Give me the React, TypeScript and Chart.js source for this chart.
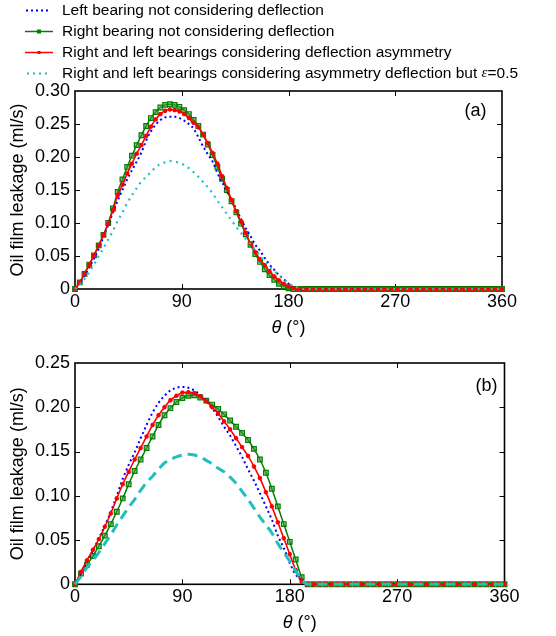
import React, { useEffect, useRef } from "react";
import { Chart, registerables } from "chart.js";

Chart.register(...registerables);

const FONT = "'Liberation Sans', Arial, Helvetica, sans-serif";

// Shaft angle spacing of the samples, degrees
const STEP_A = 4;
const STEP_B = 5;

// Panel (a): oil film leakage (ml/s), one value per STEP_A degrees, 0..360
const leftA = [
  0, 0.010, 0.020, 0.033, 0.046, 0.061, 0.079, 0.097, 0.116, 0.134,
  0.150, 0.166, 0.180, 0.193, 0.207, 0.225, 0.239, 0.249, 0.256, 0.260,
  0.261, 0.261, 0.259, 0.255, 0.250, 0.243, 0.230, 0.216, 0.204, 0.193,
  0.176, 0.162, 0.148, 0.135, 0.121, 0.106, 0.092, 0.080, 0.067, 0.058,
  0.047, 0.037, 0.029, 0.021, 0.015, 0.008, 0.003, 0, 0, 0,
  0, 0, 0, 0, 0, 0, 0, 0, 0, 0,
  0, 0, 0, 0, 0, 0, 0, 0, 0, 0,
  0, 0, 0, 0, 0, 0, 0, 0, 0, 0,
  0, 0, 0, 0, 0, 0, 0, 0, 0, 0,
  0,
];
const rightA = [
  0, 0.010, 0.023, 0.037, 0.051, 0.066, 0.082, 0.100, 0.122, 0.147,
  0.166, 0.185, 0.202, 0.218, 0.233, 0.247, 0.259, 0.268, 0.275, 0.279,
  0.280, 0.279, 0.276, 0.271, 0.265, 0.256, 0.247, 0.234, 0.219, 0.203,
  0.185, 0.167, 0.150, 0.133, 0.116, 0.099, 0.083, 0.067, 0.053, 0.041,
  0.030, 0.021, 0.014, 0.008, 0.004, 0.001, 0, 0, 0, 0,
  0, 0, 0, 0, 0, 0, 0, 0, 0, 0,
  0, 0, 0, 0, 0, 0, 0, 0, 0, 0,
  0, 0, 0, 0, 0, 0, 0, 0, 0, 0,
  0, 0, 0, 0, 0, 0, 0, 0, 0, 0,
  0,
];
const asymA = [
  0, 0.010, 0.023, 0.037, 0.051, 0.066, 0.082, 0.099, 0.120, 0.142,
  0.158, 0.175, 0.190, 0.205, 0.218, 0.232, 0.246, 0.257, 0.265, 0.270,
  0.272, 0.271, 0.269, 0.265, 0.259, 0.252, 0.245, 0.234, 0.221, 0.206,
  0.190, 0.171, 0.153, 0.135, 0.118, 0.102, 0.085, 0.069, 0.056, 0.045,
  0.036, 0.027, 0.019, 0.013, 0.008, 0.004, 0.001, 0, 0, 0,
  0, 0, 0, 0, 0, 0, 0, 0, 0, 0,
  0, 0, 0, 0, 0, 0, 0, 0, 0, 0,
  0, 0, 0, 0, 0, 0, 0, 0, 0, 0,
  0, 0, 0, 0, 0, 0, 0, 0, 0, 0,
  0,
];
const eps05A = [
  0, 0.007, 0.015, 0.026, 0.037, 0.050, 0.062, 0.075, 0.088, 0.103,
  0.116, 0.130, 0.142, 0.153, 0.163, 0.170, 0.177, 0.185, 0.189, 0.192,
  0.194, 0.193, 0.191, 0.188, 0.183, 0.177, 0.170, 0.162, 0.154, 0.145,
  0.134, 0.124, 0.114, 0.104, 0.094, 0.085, 0.076, 0.068, 0.059, 0.050,
  0.042, 0.034, 0.027, 0.021, 0.015, 0.009, 0.005, 0.002, 0, 0,
  0, 0, 0, 0, 0, 0, 0, 0, 0, 0,
  0, 0, 0, 0, 0, 0, 0, 0, 0, 0,
  0, 0, 0, 0, 0, 0, 0, 0, 0, 0,
  0, 0, 0, 0, 0, 0, 0, 0, 0, 0,
  0,
];

// Panel (b): one value per STEP_B degrees, 0..360
const leftB = [
  0, 0.012, 0.026, 0.038, 0.052, 0.066, 0.082, 0.100, 0.119, 0.135,
  0.149, 0.165, 0.180, 0.194, 0.205, 0.213, 0.219, 0.222, 0.223, 0.222,
  0.219, 0.214, 0.207, 0.199, 0.189, 0.178, 0.168, 0.156, 0.144, 0.130,
  0.117, 0.103, 0.088, 0.073, 0.055, 0.041, 0.024, 0.011, 0.005, 0,
  0, 0, 0, 0, 0, 0, 0, 0, 0, 0,
  0, 0, 0, 0, 0, 0, 0, 0, 0, 0,
  0, 0, 0, 0, 0, 0, 0, 0, 0, 0,
  0, 0, 0,
];
const rightB = [
  0, 0.012, 0.022, 0.032, 0.043, 0.055, 0.068, 0.082, 0.097, 0.113,
  0.128, 0.141, 0.154, 0.167, 0.180, 0.191, 0.199, 0.206, 0.2105, 0.213,
  0.2135, 0.211, 0.2075, 0.203, 0.198, 0.192, 0.185, 0.178, 0.171, 0.163,
  0.153, 0.141, 0.126, 0.108, 0.088, 0.068, 0.048, 0.028, 0.008, 0,
  0, 0, 0, 0, 0, 0, 0, 0, 0, 0,
  0, 0, 0, 0, 0, 0, 0, 0, 0, 0,
  0, 0, 0, 0, 0, 0, 0, 0, 0, 0,
  0, 0, 0,
];
const asymB = [
  0, 0.014, 0.027, 0.039, 0.051, 0.065, 0.080, 0.097, 0.113, 0.127,
  0.141, 0.154, 0.167, 0.180, 0.191, 0.200, 0.208, 0.213, 0.2165, 0.217,
  0.216, 0.2125, 0.207, 0.200, 0.193, 0.184, 0.175, 0.165, 0.155, 0.145,
  0.133, 0.120, 0.104, 0.088, 0.070, 0.052, 0.034, 0.016, 0.003, 0,
  0, 0, 0, 0, 0, 0, 0, 0, 0, 0,
  0, 0, 0, 0, 0, 0, 0, 0, 0, 0,
  0, 0, 0, 0, 0, 0, 0, 0, 0, 0,
  0, 0, 0,
];
const eps05B = [
  0, 0.009, 0.019, 0.027, 0.036, 0.046, 0.056, 0.067, 0.077, 0.087,
  0.096, 0.106, 0.115, 0.122, 0.130, 0.137, 0.141, 0.144, 0.146, 0.147,
  0.146, 0.144, 0.140, 0.136, 0.131, 0.127, 0.121, 0.114, 0.105, 0.096,
  0.086, 0.076, 0.067, 0.058, 0.046, 0.036, 0.026, 0.015, 0.005, 0,
  0, 0, 0, 0, 0, 0, 0, 0, 0, 0,
  0, 0, 0, 0, 0, 0, 0, 0, 0, 0,
  0, 0, 0, 0, 0, 0, 0, 0, 0, 0,
  0, 0, 0,
];

const thetaA = leftA.map((_, i) => i * STEP_A);
const thetaB = leftB.map((_, i) => i * STEP_B);

const X_STEP = 90;
const Y_STEP = 0.05;
const Y_MAX_A = 0.3;
const Y_MAX_B = 0.25;
const Y_TITLE = "Oil film leakage (ml/s)";

const LEGEND_LABELS = [
  "Left bearing not considering deflection",
  "Right bearing not considering deflection",
  "Right and left bearings considering deflection asymmetry",
  "Right and left bearings considering asymmetry deflection but ",
];

const BLUE = "#0000ff";
const GREEN = "#008000";
const RED = "#ff0000";
const CYAN = "#1fbfbf";

function pts(theta: number[], vals: number[]) {
  return vals.map((v, i) => ({ x: theta[i], y: v }));
}

function buildDatasets(
  theta: number[],
  left: number[],
  right: number[],
  asym: number[],
  eps: number[],
  epsDash: number[],
  epsWidth: number
) {
  return [
    {
      label: LEGEND_LABELS[0],
      data: pts(theta, left),
      borderColor: BLUE,
      borderWidth: 2,
      borderDash: [2, 3],
      pointRadius: 0,
      order: 3,
    },
    {
      label: LEGEND_LABELS[1],
      data: pts(theta, right),
      borderColor: GREEN,
      borderWidth: 1.5,
      pointStyle: "rect",
      pointRadius: 3.3,
      pointBorderWidth: 1.2,
      pointBorderColor: GREEN,
      pointBackgroundColor: "rgba(60,150,60,0.55)",
      order: 4,
    },
    {
      label: LEGEND_LABELS[2],
      data: pts(theta, asym),
      borderColor: RED,
      borderWidth: 1.6,
      pointStyle: "star",
      pointRadius: 2.2,
      pointBorderWidth: 1.5,
      pointBorderColor: RED,
      pointBackgroundColor: RED,
      order: 2,
    },
    {
      label: LEGEND_LABELS[3] + "ε=0.5",
      data: pts(theta, eps),
      borderColor: CYAN,
      borderWidth: epsWidth,
      borderDash: epsDash,
      pointRadius: 0,
      order: 1,
    },
  ].map((d) => ({
    ...d,
    fill: false,
    clip: false as any,
    cubicInterpolationMode: "monotone" as const,
  }));
}

function drawLegend(ctx: CanvasRenderingContext2D) {
  const rows = [10.5, 31.5, 52.5, 73.5];
  const x0 = 25;
  const x1 = 53;
  const tx = 62;
  ctx.save();
  ctx.lineCap = "butt";
  rows.forEach((y, i) => {
    ctx.beginPath();
    ctx.setLineDash([]);
    if (i === 0) {
      ctx.strokeStyle = BLUE;
      ctx.lineWidth = 2;
      ctx.setLineDash([2, 3]);
      ctx.moveTo(x0 + 1, y);
      ctx.lineTo(x1 - 2, y);
      ctx.stroke();
    } else if (i === 1) {
      ctx.strokeStyle = GREEN;
      ctx.lineWidth = 1.5;
      ctx.moveTo(x0, y);
      ctx.lineTo(x1, y);
      ctx.stroke();
      ctx.fillStyle = GREEN;
      ctx.fillRect(37, y - 2, 4, 4);
    } else if (i === 2) {
      ctx.strokeStyle = RED;
      ctx.lineWidth = 1.5;
      ctx.moveTo(x0, y);
      ctx.lineTo(x1, y);
      ctx.stroke();
      ctx.fillStyle = RED;
      ctx.fillRect(37.5, y - 1.5, 3, 3);
    } else {
      ctx.strokeStyle = CYAN;
      ctx.lineWidth = 2;
      ctx.setLineDash([2, 4]);
      ctx.moveTo(x0 + 2, y);
      ctx.lineTo(x1 - 2, y);
      ctx.stroke();
    }
  });
  ctx.setLineDash([]);
  ctx.fillStyle = "#000";
  ctx.textAlign = "left";
  ctx.textBaseline = "middle";
  rows.forEach((y, i) => {
    ctx.font = `15.5px ${FONT}`;
    ctx.fillText(LEGEND_LABELS[i], tx, y);
    if (i === 3) {
      let x = tx + ctx.measureText(LEGEND_LABELS[i]).width;
      ctx.font = `italic 15px 'Liberation Serif', 'DejaVu Serif', serif`;
      ctx.fillText("ε", x, y);
      x += ctx.measureText("ε").width;
      ctx.font = `15.5px ${FONT}`;
      ctx.fillText("=0.5", x, y);
    }
  });
  ctx.restore();
}

type Decor = {
  tag: string;
  tagX: number;
  tagY: number;
  titleShift: number;
  legend: boolean;
};

function decorPlugin(cfg: Decor) {
  return {
    id: "panelDecor",
    beforeDatasetsDraw(chart: any) {
      const { ctx, chartArea: a, scales } = chart;
      ctx.save();
      ctx.strokeStyle = "#000";
      ctx.lineWidth = 1;
      const tl = 5;
      ctx.beginPath();
      for (const t of scales.x.ticks) {
        const px = Math.round(scales.x.getPixelForValue(t.value)) + 0.5;
        if (px < a.left + 2 || px > a.right - 2) continue;
        ctx.moveTo(px, a.bottom);
        ctx.lineTo(px, a.bottom - tl);
        ctx.moveTo(px, a.top);
        ctx.lineTo(px, a.top + tl);
      }
      for (const t of scales.y.ticks) {
        const py = Math.round(scales.y.getPixelForValue(t.value)) + 0.5;
        if (py < a.top + 2 || py > a.bottom - 2) continue;
        ctx.moveTo(a.left, py);
        ctx.lineTo(a.left + tl, py);
        ctx.moveTo(a.right, py);
        ctx.lineTo(a.right - tl, py);
      }
      ctx.stroke();
      ctx.lineWidth = 1.6;
      ctx.strokeRect(a.left, a.top, a.right - a.left, a.bottom - a.top);
      ctx.restore();
    },
    afterDraw(chart: any) {
      const { ctx, chartArea: a } = chart;
      ctx.save();
      ctx.fillStyle = "#000";
      const th = "θ";
      const unit = " (°)";
      ctx.font = `italic 18px ${FONT}`;
      const w1 = ctx.measureText(th).width;
      ctx.font = `18px ${FONT}`;
      const w2 = ctx.measureText(unit).width;
      const cx = (a.left + a.right) / 2 + cfg.titleShift;
      const x0 = cx - (w1 + w2) / 2;
      const by = a.bottom + 44;
      ctx.textAlign = "left";
      ctx.textBaseline = "alphabetic";
      ctx.font = `italic 18px ${FONT}`;
      ctx.fillText(th, x0, by);
      ctx.font = `18px ${FONT}`;
      ctx.fillText(unit, x0 + w1, by);
      ctx.textAlign = "center";
      ctx.textBaseline = "middle";
      ctx.fillText(cfg.tag, cfg.tagX, cfg.tagY);
      if (cfg.legend) drawLegend(ctx);
      ctx.restore();
    },
  };
}

function buildOptions(yMax: number, pad: { top: number; right: number }, xAxisHeight: number) {
  return {
    responsive: false,
    animation: false as const,
    layout: { padding: { left: 0, right: pad.right, top: pad.top, bottom: 0 } },
    plugins: { legend: { display: false }, tooltip: { enabled: false } },
    scales: {
      x: {
        type: "linear" as const,
        min: 0,
        max: 360,
        ticks: {
          stepSize: X_STEP,
          color: "#000",
          padding: 2,
          maxRotation: 0,
          font: { family: FONT, size: 18 },
        },
        grid: { display: false, drawTicks: false },
        border: { display: false },
        afterFit: (s: any) => {
          s.height = xAxisHeight;
        },
      },
      y: {
        type: "linear" as const,
        min: 0,
        max: yMax,
        ticks: {
          stepSize: Y_STEP,
          color: "#000",
          padding: 5,
          font: { family: FONT, size: 18 },
          callback: (v: any) => (Math.abs(v) < 1e-9 ? "0" : Number(v).toFixed(2)),
        },
        title: {
          display: true,
          text: Y_TITLE,
          color: "#000",
          font: { family: FONT, size: 18 },
          padding: { top: 7, bottom: 0 },
        },
        grid: { display: false, drawTicks: false },
        border: { display: false },
        afterFit: (s: any) => {
          s.width = 75;
        },
      },
    },
  };
}

export default function App() {
  const refA = useRef<HTMLCanvasElement | null>(null);
  const refB = useRef<HTMLCanvasElement | null>(null);

  useEffect(() => {
    if (!refA.current || !refB.current) return;
    const chartA = new Chart(refA.current, {
      type: "line",
      data: {
        datasets: buildDatasets(thetaA, leftA, rightA, asymA, eps05A, [2, 4.5], 2.2) as any,
      },
      options: buildOptions(Y_MAX_A, { top: 91, right: 54 }, 56) as any,
      plugins: [decorPlugin({ tag: "(a)", tagX: 475.5, tagY: 111, titleShift: 0, legend: true })],
    });
    const chartB = new Chart(refB.current, {
      type: "line",
      data: {
        datasets: buildDatasets(thetaB, leftB, rightB, asymB, eps05B, [10, 6], 3) as any,
      },
      options: buildOptions(Y_MAX_B, { top: 23, right: 51.5 }, 51.7) as any,
      plugins: [decorPlugin({ tag: "(b)", tagX: 486.5, tagY: 46.5, titleShift: 10, legend: false })],
    });
    return () => {
      chartA.destroy();
      chartB.destroy();
    };
  }, []);

  return (
    <div
      style={{
        position: "absolute",
        left: 0,
        top: 0,
        width: 556,
        height: 636,
        background: "#fff",
        overflow: "hidden",
      }}
    >
      <canvas
        ref={refA}
        width={556}
        height={345}
        style={{ position: "absolute", left: 0, top: 0, width: 556, height: 345 }}
      />
      <canvas
        ref={refB}
        width={556}
        height={296}
        style={{ position: "absolute", left: 0, top: 340, width: 556, height: 296 }}
      />
    </div>
  );
}
